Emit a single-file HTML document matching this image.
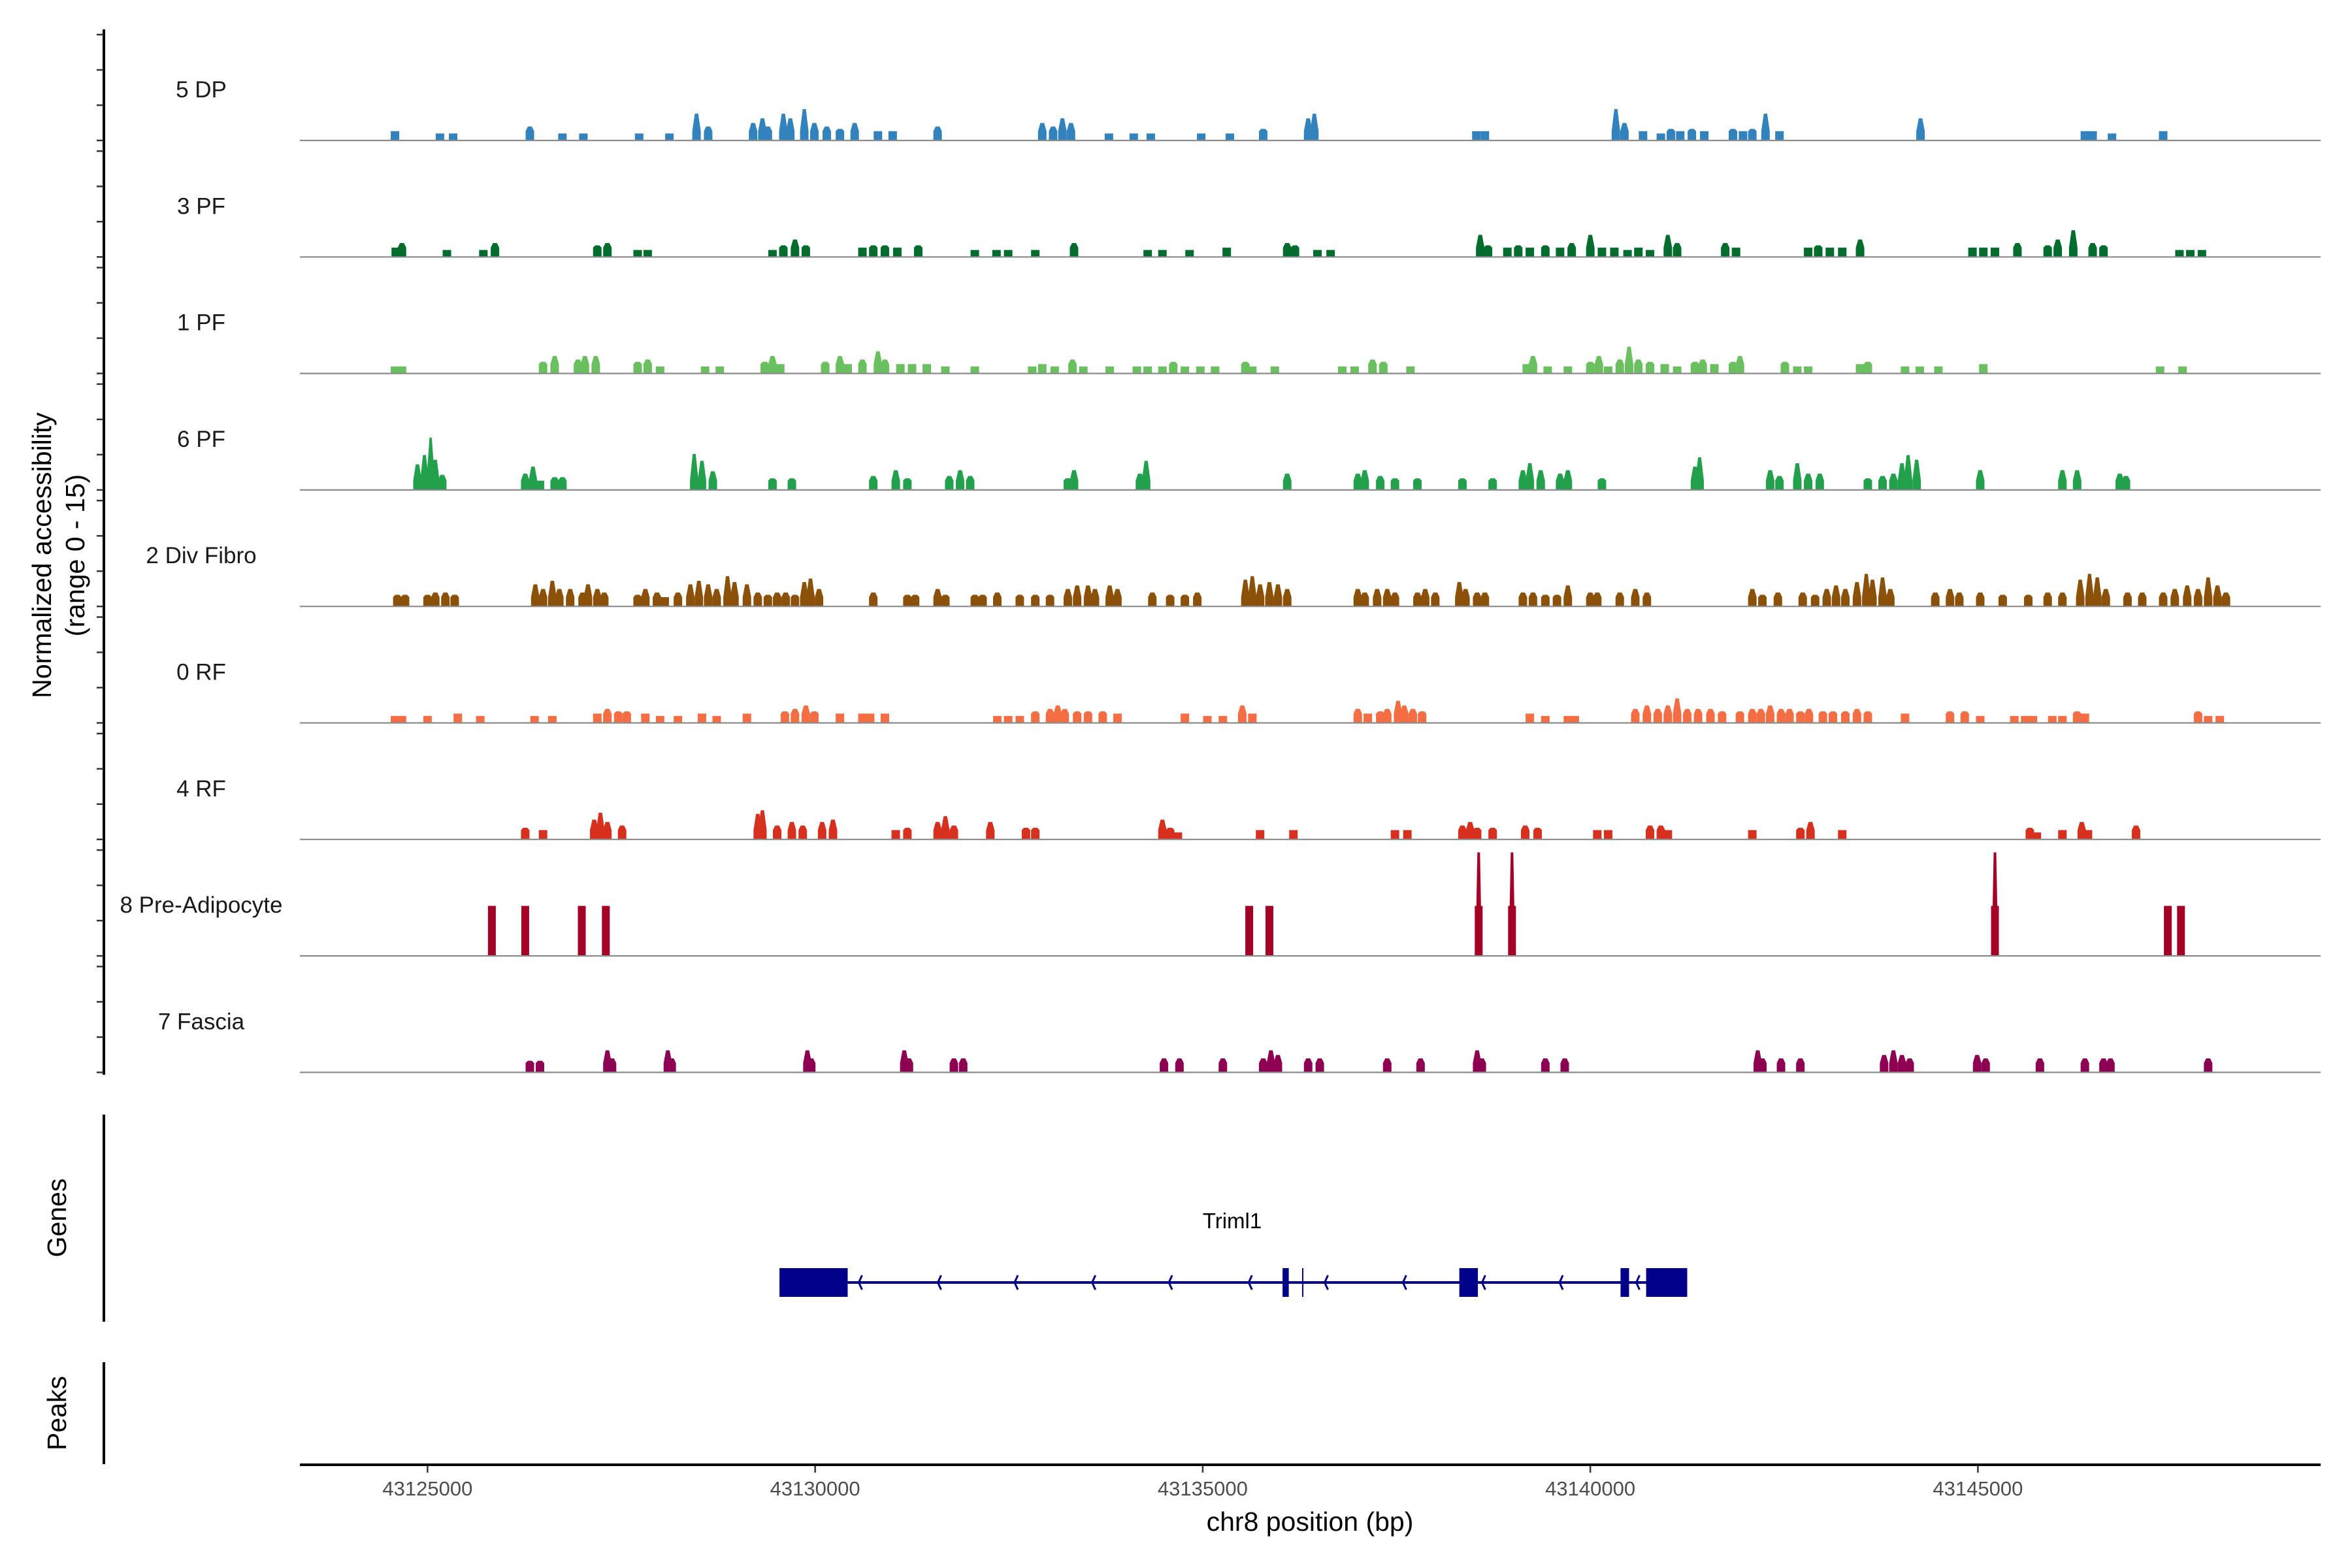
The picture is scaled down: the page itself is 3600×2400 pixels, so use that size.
<!DOCTYPE html>
<html><head><meta charset="utf-8"><style>
html,body{margin:0;padding:0;background:#fff}
svg{display:block;font-family:"Liberation Sans",Arial,sans-serif}
</style></head><body>
<svg id="chart" width="3600" height="2400" viewBox="0 0 3600 2400" xmlns="http://www.w3.org/2000/svg">
<g id="tracks"></g>
<g id="gene"></g>
<g id="axes"></g>
</svg>
<script>
// positions in kb offset from 43,120,000 bp; values in normalized accessibility
const trackNames = ["5 DP","3 PF","1 PF","6 PF","2 Div Fibro","0 RF","4 RF","8 Pre-Adipocyte","7 Fascia"];
const trackColors = ["#3182bd","#006d2c","#6abf5e","#22a04b","#8c5109","#f46d43","#d7301f","#a50026","#8e0152"];
const xTicks = [43125000,43130000,43135000,43140000,43145000];
const dpPeaks = [[4.58,.8],[5.16,.6],[5.33,.6],[6.32,1.2],[6.74,.6],[7.01,.6],[7.73,.6],[8.12,.6],[8.47,2.3],[8.62,1.2],[9.20,1.5],[9.32,1.9],[9.39,1.2],[9.59,2.3],[9.68,1.9],[9.86,2.7],[9.99,1.5],[10.15,1.2],[10.32,1.0],[10.51,1.5],[10.81,.8],[11.0,.8],[11.58,1.2],[12.93,1.5],[13.07,1.2],[13.19,1.9],[13.30,1.5],[13.79,.6],[14.11,.6],[14.33,.6],[14.98,.6],[15.35,.6],[15.78,1.0],[16.36,1.9],[16.44,2.3],[18.53,.8],[18.64,.8],[20.33,2.7],[20.44,1.5],[20.68,.8],[20.91,.6],[21.04,1.0],[21.16,.8],[21.31,1.0],[21.47,.8],[21.84,1.0],[21.97,.8],[22.09,1.0],[22.26,2.3],[22.44,.8],[24.26,1.9],[26.38,.8],[26.48,.8],[26.73,.6],[27.39,.8]];
const pf3Peaks = [[4.59,.8],[4.67,1.2],[5.25,.6],[5.72,.6],[5.87,1.2],[7.19,1.0],[7.32,1.2],[7.71,.6],[7.84,.6],[9.45,.6],[9.59,1.0],[9.74,1.5],[9.88,1.0],[10.61,.8],[10.75,1.0],[10.90,1.0],[11.06,.8],[11.33,1.0],[12.06,.6],[12.34,.6],[12.49,.6],[12.84,.6],[13.34,1.2],[14.29,.6],[14.48,.6],[14.83,.6],[15.31,.8],[16.09,1.2],[16.19,1.0],[16.48,.6],[16.65,.6],[18.58,1.9],[18.68,1.0],[18.93,.8],[19.07,1.0],[19.22,.8],[19.42,1.0],[19.61,.8],[19.76,1.2],[20.0,1.9],[20.15,.8],[20.31,.8],[20.48,.6],[20.62,.8],[20.77,.6],[21.0,1.9],[21.12,1.2],[21.74,1.2],[21.88,.8],[22.81,.8],[22.94,1.0],[23.09,.8],[23.25,.8],[23.48,1.5],[24.93,.8],[25.07,.8],[25.22,.8],[25.51,1.2],[25.90,1.0],[26.03,1.5],[26.23,2.3],[26.48,1.2],[26.62,1.0],[27.60,.6],[27.74,.6],[27.89,.6]];
const pf1Peaks = [[4.58,.6],[4.67,.6],[6.49,1.0],[6.64,1.5],[6.94,1.2],[7.03,1.5],[7.17,1.5],[7.71,1.0],[7.84,1.2],[8.0,.6],[8.58,.6],[8.77,.6],[9.35,1.0],[9.45,1.5],[9.55,.8],[10.13,1.0],[10.32,1.5],[10.42,.8],[10.61,1.2],[10.81,1.9],[10.90,1.2],[11.10,.8],[11.25,.8],[11.44,.8],[11.68,.6],[12.06,.6],[12.80,.6],[12.93,.8],[13.09,.6],[13.32,1.2],[13.46,.6],[13.80,.6],[14.15,.6],[14.29,.6],[14.48,.6],[14.62,1.0],[14.77,.6],[14.97,.6],[15.16,.6],[15.55,1.0],[15.64,.6],[15.93,.6],[16.80,.6],[16.96,.6],[17.19,1.2],[17.33,1.0],[17.68,.6],[19.18,.8],[19.26,1.5],[19.45,.6],[19.71,.6],[20.0,1.0],[20.11,1.5],[20.23,.6],[20.38,1.2],[20.50,2.3],[20.62,1.2],[20.77,1.0],[20.96,.8],[21.12,.6],[21.35,1.0],[21.45,1.2],[21.60,.8],[21.84,1.0],[21.93,1.5],[22.51,1.0],[22.67,.6],[22.81,.6],[23.48,.8],[23.58,1.0],[24.06,.6],[24.25,.6],[24.49,.6],[25.07,.8],[27.35,.6],[27.64,.6]];
const pf6Peaks = [[4.87,2.2],[4.96,3.0],[5.04,4.5],[5.10,2.6],[5.19,1.3],[6.26,1.4],[6.36,2.0],[6.45,.8],[6.64,1.1],[6.74,1.1],[8.44,3.1],[8.54,2.5],[8.68,1.6],[9.45,1.0],[9.70,1.0],[10.75,1.2],[11.04,1.7],[11.19,1.0],[11.73,1.2],[11.87,1.7],[12.0,1.2],[13.26,1.0],[13.34,1.7],[14.19,1.4],[14.27,2.5],[16.09,1.4],[17.0,1.4],[17.09,1.7],[17.29,1.2],[17.48,1.0],[17.77,1.0],[18.35,1.0],[18.74,1.0],[19.13,1.7],[19.22,2.3],[19.36,1.7],[19.61,1.4],[19.71,1.7],[20.15,1.0],[21.35,2.0],[21.41,2.8],[22.32,1.7],[22.44,1.2],[22.67,2.3],[22.81,1.4],[22.96,1.4],[23.58,1.0],[23.77,1.2],[23.91,1.4],[24.02,2.3],[24.10,3.0],[24.21,2.6],[25.03,1.7],[26.09,1.7],[26.28,1.7],[26.83,1.4],[26.91,1.2]];
const divPeaks = [[4.61,1],[4.71,1],[5.0,1],[5.10,1.2],[5.23,1.2],[5.35,1],[6.39,1.9],[6.49,1.5],[6.61,2.2],[6.70,1.5],[6.84,1.5],[7.0,1.2],[7.07,1.9],[7.19,1.5],[7.28,1.2],[7.71,1],[7.81,1.5],[7.96,1.2],[8.06,.8],[8.23,1.2],[8.39,1.9],[8.50,2.2],[8.62,1.9],[8.73,1.5],[8.87,2.6],[8.96,2.1],[9.12,1.9],[9.26,1.2],[9.39,1],[9.51,1.2],[9.62,1.2],[9.74,1],[9.86,2.1],[9.94,2.4],[10.05,1.5],[10.75,1.2],[11.19,1],[11.29,1],[11.58,1.5],[11.68,1],[12.06,1],[12.16,1],[12.35,1.2],[12.64,1],[12.84,1],[13.03,1],[13.26,1.5],[13.38,1.8],[13.52,1.8],[13.61,1.5],[13.80,1.8],[13.90,1.5],[14.35,1.2],[14.58,1],[14.77,1],[14.93,1.2],[15.55,2.3],[15.64,2.6],[15.74,1.9],[15.86,2.1],[15.97,1.9],[16.09,1.5],[17.0,1.5],[17.09,1.2],[17.25,1.5],[17.38,1.5],[17.48,1.2],[17.77,1.2],[17.87,1.5],[18.0,1.2],[18.31,2.1],[18.39,1.5],[18.54,1.2],[18.64,1.2],[19.13,1.2],[19.26,1.2],[19.42,1],[19.57,1],[19.71,1.8],[20.0,1.2],[20.09,1.2],[20.38,1.2],[20.58,1.5],[20.73,1.2],[22.09,1.5],[22.22,1],[22.42,1.2],[22.74,1.2],[22.90,1],[23.05,1.5],[23.17,1.8],[23.29,1.5],[23.44,2.1],[23.56,2.8],[23.64,2.3],[23.77,2.5],[23.87,1.5],[24.45,1.2],[24.64,1.5],[24.76,1.2],[25.03,1.2],[25.32,1],[25.65,1],[25.90,1.2],[26.09,1.2],[26.32,2.3],[26.44,2.8],[26.54,2.5],[26.65,1.5],[26.93,1.2],[27.12,1.2],[27.39,1.2],[27.54,1.5],[27.70,1.8],[27.84,1.5],[27.97,2.5],[28.09,1.8],[28.20,1.2]];
const rf0Peaks = [[4.58,.6],[4.67,.6],[5.0,.6],[5.39,.8],[5.68,.6],[6.38,.6],[6.61,.6],[7.19,.8],[7.32,1.2],[7.46,1],[7.57,1],[7.81,.8],[8.0,.6],[8.23,.6],[8.54,.8],[8.73,.6],[9.12,.8],[9.61,1],[9.74,1.2],[9.88,1.5],[9.99,1],[10.32,.8],[10.61,.8],[10.71,.8],[10.90,.8],[12.35,.6],[12.49,.6],[12.64,.6],[12.84,1],[13.03,1.2],[13.13,1.5],[13.22,1.2],[13.38,1],[13.52,1],[13.71,1],[13.90,.8],[14.77,.8],[15.06,.6],[15.26,.6],[15.51,1.5],[15.64,.8],[17.0,1.2],[17.13,.8],[17.29,1],[17.38,1.2],[17.52,1.9],[17.60,1.5],[17.71,1.2],[17.83,1],[19.22,.8],[19.42,.6],[19.71,.6],[19.80,.6],[20.58,1.2],[20.73,1.5],[20.87,1.2],[21.0,1.5],[21.12,2.1],[21.25,1.2],[21.39,1.2],[21.55,1.2],[21.70,1],[21.93,1],[22.09,1.2],[22.20,1.2],[22.32,1.5],[22.46,1.2],[22.57,1.2],[22.71,1],[22.82,1.2],[23.0,1],[23.13,1],[23.29,1],[23.44,1.2],[23.58,1],[24.06,.8],[24.64,1],[24.83,1],[25.03,.6],[25.47,.6],[25.61,.6],[25.71,.6],[25.96,.6],[26.09,.6],[26.28,1],[26.38,.8],[27.84,1],[27.97,.6],[28.12,.6]];
const rf4Peaks = [[6.26,1],[6.49,.8],[7.15,1.7],[7.23,2.3],[7.32,1.5],[7.51,1.2],[9.26,2.2],[9.32,2.5],[9.51,1.2],[9.70,1.5],[9.84,1.2],[10.09,1.5],[10.23,1.7],[11.04,.8],[11.19,1],[11.58,1.5],[11.68,2.0],[11.79,1.2],[12.26,1.5],[12.72,1],[12.84,1],[14.48,1.7],[14.58,1],[14.68,.6],[15.74,.8],[16.17,.8],[17.48,.8],[17.64,.8],[18.35,1.2],[18.45,1.5],[18.54,1],[18.74,1],[19.16,1.2],[19.32,1],[20.09,.8],[20.23,.8],[20.77,1.2],[20.91,1.2],[21.0,.8],[22.09,.8],[22.71,1],[22.84,1.5],[23.25,.8],[25.67,1],[25.76,.6],[26.09,.8],[26.34,1.5],[26.42,.8],[27.04,1.2]];
const preAdipoBars = [[5.83,4.3],[6.26,4.3],[6.99,4.3],[7.30,4.3],[15.60,4.3],[15.86,4.3],[18.56,4.3],[18.99,4.3],[25.22,4.3],[27.45,4.3],[27.62,4.3]];
const preAdipoSpikes = [[18.56,8.9],[18.99,8.9],[25.22,8.9]];
const fasciaPeaks = [[6.32,1],[6.45,1],[7.32,1.9],[7.38,1.2],[8.10,1.9],[8.15,1.2],[9.90,1.9],[9.95,1.2],[11.15,1.9],[11.21,1.2],[11.79,1.2],[11.91,1.2],[14.50,1.2],[14.70,1.2],[15.26,1.2],[15.78,1.2],[15.88,1.9],[15.97,1.5],[16.36,1.2],[16.51,1.2],[17.38,1.2],[17.81,1.2],[18.54,1.9],[18.60,1.2],[19.42,1.2],[19.67,1.2],[22.16,1.9],[22.22,1.2],[22.46,1.2],[22.71,1.2],[23.79,1.5],[23.91,1.9],[24.02,1.5],[24.12,1.2],[24.99,1.5],[25.10,1.2],[25.80,1.2],[26.38,1.2],[26.62,1.2],[26.71,1.2],[27.97,1.2]];
const geneExons = [[9.54,10.42],[16.03,16.11],[18.31,18.55],[20.39,20.50],[20.72,21.25]];
const geneThinMarks = [16.29];
const geneArrows = [10.58,11.60,12.59,13.59,14.58,15.61,16.59,17.60,18.62,19.62,20.61];
const geneSpan = [9.54,21.25];

const NS="http://www.w3.org/2000/svg";
const X0=459, X1=3552;
function xs(kb){return 654.4+(kb-5)*118.65;}
function xBp(bp){return xs((bp-43120000)/1000);}
const base0=215, trackStep=178.3, unitPx=17.8;
function baseY(i){return base0+i*trackStep;}
function ys(i,v){return baseY(i)-v*unitPx;}
function mk(tag,attrs,parent){const e=document.createElementNS(NS,tag);for(const k in attrs)e.setAttribute(k,attrs[k]);parent.appendChild(e);return e;}

const T=document.getElementById('tracks');
const series=[dpPeaks,pf3Peaks,pf1Peaks,pf6Peaks,divPeaks,rf0Peaks,rf4Peaks,null,fasciaPeaks];
trackNames.forEach((name,i)=>{
  const g=mk('g',{},T);
  
  
  const lab=mk('text',{x:308,y:baseY(i)-66,'font-size':35,'text-anchor':'middle',fill:'#1a1a1a'},g);
  lab.textContent=name;
  
  
  const col=trackColors[i];
  if(series[i]){
    series[i].forEach(p=>{
      const c=xs(p[0]), hw=6.5, tw=Math.max(1.5,3.5-p[1]*0.4);
      const yb=baseY(i), yt=ys(i,p[1]), ym=ys(i,Math.min(p[1],0.8));
      const pts=[[c-hw,yb],[c-hw,ym],[c-tw,yt],[c+tw,yt],[c+hw,ym],[c+hw,yb]].map(q=>q.join(',')).join(' ');
      const e=mk('polygon',{points:pts,fill:col},g);
      
      
    });
  } else {
    preAdipoBars.forEach(p=>{
      const e=mk('rect',{x:xs(p[0])-6,y:ys(i,p[1]),width:12,height:p[1]*unitPx,fill:col},g);
      
      
    });
    preAdipoSpikes.forEach(p=>{
      const c=xs(p[0]);
      const e=mk('polygon',{points:`${c-5},${baseY(i)} ${c-2},${ys(i,p[1])} ${c+2},${ys(i,p[1])} ${c+5},${baseY(i)}`,fill:col},g);
      
      
    });
  }
  const bl=mk('line',{x1:X0,x2:X1,y1:baseY(i),y2:baseY(i),stroke:'#8c8c8c','stroke-width':2.2},g);
  
  
});

// gene
const G=document.getElementById('gene');
const gy=1963;
const gl=mk('line',{x1:xs(geneSpan[0]),x2:xs(geneSpan[1]),y1:gy,y2:gy,stroke:'#00008b','stroke-width':4},G);


geneArrows.forEach(a=>{
  const c=xs(a);
  const e=mk('polyline',{points:`${c+3},${gy-11} ${c-2},${gy} ${c+3},${gy+11}`,fill:'none',stroke:'#00008b','stroke-width':3},G);
  
  
});
geneExons.forEach(ex=>{
  const e=mk('rect',{x:xs(ex[0]),y:1941,width:xs(ex[1])-xs(ex[0]),height:44,fill:'#00008b'},G);
  
  
});
geneThinMarks.forEach(m=>{
  const e=mk('line',{x1:xs(m),x2:xs(m),y1:1941,y2:1985,stroke:'#00008b','stroke-width':2},G);
  
  
});
const gn=mk('text',{x:1886,y:1880,'font-size':33,'text-anchor':'middle',fill:'#000'},G);
gn.textContent='Triml1';



// axes
const A=document.getElementById('axes');
const la=mk('line',{x1:159,x2:159,y1:45,y2:1645,stroke:'#000','stroke-width':4},A);


trackNames.forEach((n,i)=>{
  for(let k=0;k<4;k++){
    const y=baseY(i)-k*54;
    const t=mk('line',{x1:148,x2:158,y1:y,y2:y,stroke:'#333','stroke-width':2.5},A);
    
    
  }
});
const ga=mk('line',{x1:159,x2:159,y1:1706,y2:2023,stroke:'#000','stroke-width':4},A);


const pa=mk('line',{x1:159,x2:159,y1:2085,y2:2241,stroke:'#000','stroke-width':4},A);


function rotText(txt,x,y,size,name){
  const t=mk('text',{x:x,y:y,'font-size':size,'text-anchor':'middle',fill:'#000',transform:`rotate(-90 ${x} ${y})`},A);
  t.textContent=txt;
  
  
}
rotText('Normalized accessibility',78,850,41,'y-axis-title');
rotText('(range 0 - 15)',129,850,41,'y-axis-subtitle');
rotText('Genes',101,1864,41,'genes-axis-title');
rotText('Peaks',101,2163,41,'peaks-axis-title');
const xa=mk('line',{x1:X0,x2:X1,y1:2242,y2:2242,stroke:'#000','stroke-width':4},A);


xTicks.forEach(b=>{
  const x=xBp(b);
  const t=mk('line',{x1:x,x2:x,y1:2244,y2:2254,stroke:'#333','stroke-width':2.5},A);
  
  
  const l=mk('text',{x:x,y:2289,'font-size':31,'text-anchor':'middle',fill:'#4d4d4d'},A);
  l.textContent=String(b);
  
  
});
const xt=mk('text',{x:2005,y:2343,'font-size':41,'text-anchor':'middle',fill:'#000'},A);
xt.textContent='chr8 position (bp)';


</script>
</body></html>
